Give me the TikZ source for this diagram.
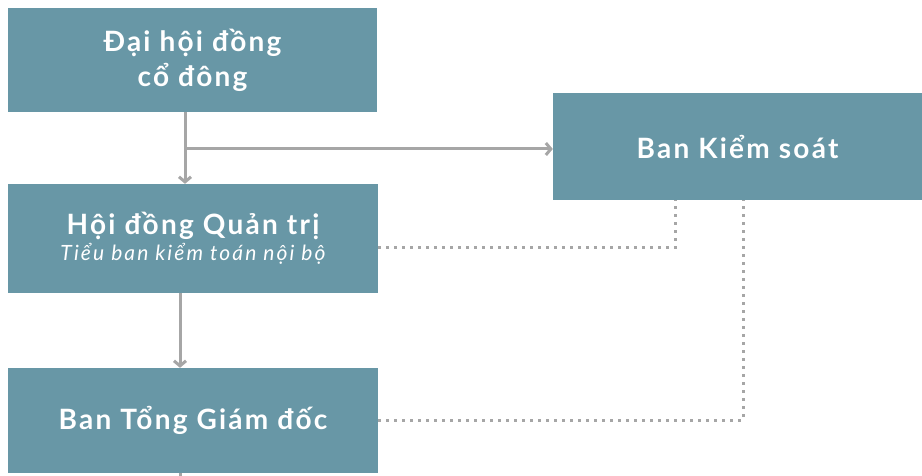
\documentclass[tikz,border=0pt]{standalone}
\usepackage{fontspec}
\setmainfont{Lato}[LetterSpace=8]
\newfontfamily\subfont{Lato}[LetterSpace=10]
\usetikzlibrary{arrows.meta,calc}
\definecolor{boxblue}{HTML}{6897A6}
\definecolor{linegray}{HTML}{A6A6A6}
\begin{document}
\begin{tikzpicture}[x=1pt,y=-1pt,
    orgbox/.style={rectangle, fill=boxblue, text=white, align=center, inner sep=0pt,
        font=\bfseries\fontsize{28}{35}\selectfont},
    conn/.style={linegray, line width=3pt, -{Straight Barb[length=5pt,width=12pt]}},
    plain/.style={linegray, line width=3pt},
    dots/.style={linegray, line width=3pt, dash pattern=on 3pt off 5pt}]
    \useasboundingbox (0,0) rectangle (922,476);
    % Boxes
    \node[orgbox, minimum width=369pt, minimum height=104pt] (dhcd) at (192.5,60) {Đại hội đồng\\cổ đông};
    \node[orgbox, minimum width=369pt, minimum height=107pt] (bks) at (737.5,146.5) {Ban Kiểm soát};
    \node[orgbox, minimum width=370pt, minimum height=109pt] (hdqt) at (193,238.5)
        {Hội đồng Quản trị\\[-9pt]{\subfont\itshape\mdseries\fontsize{21}{26}\selectfont Tiểu ban kiểm toán nội bộ}};
    \node[orgbox, minimum width=370pt, minimum height=105pt] (btgd) at (193,420.5) {Ban Tổng Giám đốc};

    % Solid connectors
    \coordinate (split) at (185,149);
    \draw[plain] (split |- dhcd.south) -- (split);
    \draw[conn] (split) -- (split |- hdqt.north);
    \draw[conn] (split) -- (split -| bks.west);
    \coordinate (mid) at (180,0);
    \draw[conn] (mid |- hdqt.south) -- (mid |- btgd.north);
    \coordinate (stub) at (180,476);
    \draw[plain] (stub |- btgd.south) -- (stub);

    % Dotted connectors
    \coordinate (k1) at (675,248);
    \draw[dots] (hdqt.east |- k1) -- (k1) -- (k1 |- bks.south);
    \coordinate (k2) at (743,420);
    \draw[dots] (btgd.east |- k2) -- (k2) -- (k2 |- bks.south);
\end{tikzpicture}
\end{document}
